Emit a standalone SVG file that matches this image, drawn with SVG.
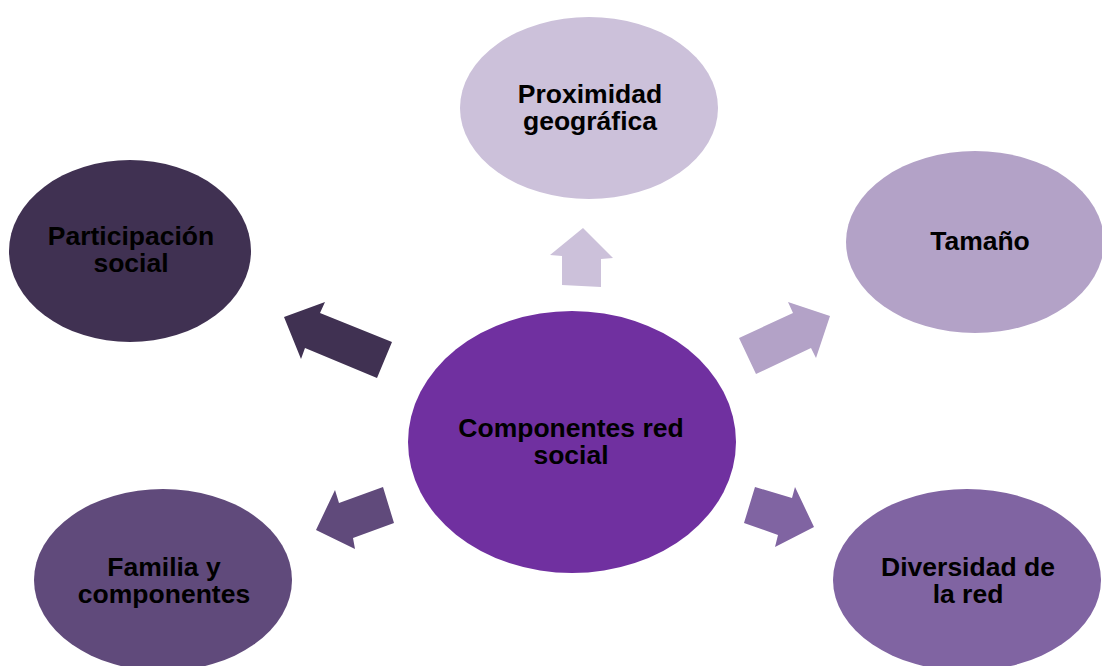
<svg xmlns="http://www.w3.org/2000/svg" width="1102" height="666" viewBox="0 0 1102 666">
<style>
text{font-family:"Liberation Sans",Arial,sans-serif;font-weight:bold;font-size:26.5px;fill:#000;text-anchor:middle}
</style>
<rect width="1102" height="666" fill="#fff"/>
<g id="connectors">
<polygon fill="#CCC1DA" points="583,228 613,258 601,259 601,287 562,285 562,256 550,255"/>
<polygon fill="#B3A2C7" points="739,338 793,313 788,302 830,316 816,358 811,348 756,374"/>
<polygon fill="#403152" points="284,317 325,302 320,313 392,342 377,378 305,348 301,359"/>
<polygon fill="#604A7B" points="316,530 335,490 339,503 383,487 394,523 353,538 355,549"/>
<polygon fill="#8064A2" points="755,487 792,498 795,487 814,527 775,547 778,535 744,523"/>
</g>
<g id="center">
<ellipse cx="572" cy="442" rx="164" ry="131" fill="#7030A0"/>
<text x="571" y="437">Componentes red</text>
<text x="571" y="464">social</text>
</g>
<g id="proximidad">
<ellipse cx="589" cy="108" rx="129" ry="91" fill="#CCC1DA"/>
<text x="590" y="103">Proximidad</text>
<text x="590" y="130">geográfica</text>
</g>
<g id="tamano">
<ellipse cx="975" cy="242" rx="129" ry="91" fill="#B3A2C7"/>
<text x="980" y="250">Tamaño</text>
</g>
<g id="participacion">
<ellipse cx="130" cy="251" rx="121" ry="91" fill="#403152"/>
<text x="131" y="245">Participación</text>
<text x="131" y="272">social</text>
</g>
<g id="familia">
<ellipse cx="163" cy="580" rx="129" ry="91" fill="#604A7B"/>
<text x="164" y="576">Familia y</text>
<text x="164" y="603">componentes</text>
</g>
<g id="diversidad">
<ellipse cx="967" cy="580" rx="134" ry="91" fill="#8064A2"/>
<text x="968" y="576">Diversidad de</text>
<text x="968" y="603">la red</text>
</g>
</svg>
